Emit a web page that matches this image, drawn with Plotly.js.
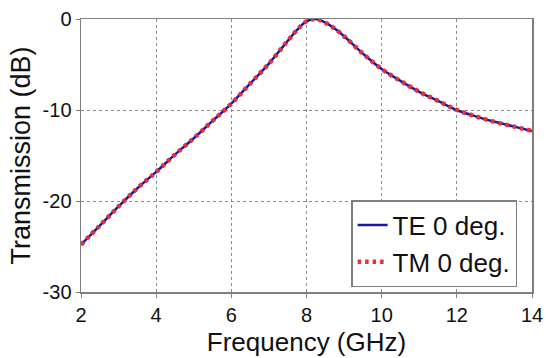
<!DOCTYPE html>
<html>
<head>
<meta charset="utf-8">
<script src="https://cdn.plot.ly/plotly-3.0.1.min.js"></script>
<style>html,body{margin:0;padding:0;background:#fff;}#chart{width:548px;height:358px;}</style>
</head>
<body>
<div id="chart"></div>
<script>
var freq = [2, 2.5, 3, 3.5, 4, 4.5, 5, 5.5, 6, 6.5, 7, 7.5, 7.75, 8, 8.25, 8.5, 8.75, 9, 9.5, 10, 10.5, 11, 11.5, 12, 12.5, 13, 13.5, 14];
var teValues = [-24.8, -22.7, -20.6, -18.6, -16.8, -14.9, -13.1, -11.2, -9.3, -7.1, -4.9, -2.4, -1.2, -0.26, 0, -0.4, -1.05, -1.9, -3.8, -5.5, -6.8, -8.0, -9.0, -10.0, -10.7, -11.3, -11.8, -12.3];
var tmValues = [-24.8, -22.7, -20.6, -18.6, -16.8, -14.9, -13.1, -11.2, -9.3, -7.1, -4.9, -2.4, -1.2, -0.26, 0, -0.4, -1.05, -1.9, -3.8, -5.5, -6.8, -8.0, -9.0, -10.0, -10.7, -11.3, -11.8, -12.3];
var seriesNames = ['TE 0 deg.', 'TM 0 deg.'];
var xTicks = [2, 4, 6, 8, 10, 12, 14];
var yTicks = [-30, -20, -10, 0];

var font = 'Arial, "Liberation Sans", sans-serif';
var data = [
  {x: freq, y: teValues, name: seriesNames[0], mode: 'lines', line: {color: '#1a1a9e', width: 2.5, shape: 'spline'}},
  {x: freq, y: tmValues, name: seriesNames[1], mode: 'lines', line: {color: '#e4313c', width: 4.5, dash: '3.5px,4px', shape: 'spline'}}
];
var axisCommon = {
  showline: true, linecolor: '#7f7f7f', linewidth: 1.5, mirror: true,
  showgrid: true, gridcolor: '#8a8a8a', griddash: 'dot', gridwidth: 1,
  ticks: 'outside', ticklen: 4, tickcolor: '#7f7f7f', tickwidth: 1,
  zeroline: false, tickfont: {family: font, size: 20, color: '#111'}
};
var layout = {
  width: 548, height: 358,
  margin: {l: 81, r: 16, t: 19, b: 66},
  paper_bgcolor: '#fff', plot_bgcolor: '#fff',
  showlegend: true,
  legend: {x: 0.967, y: 0.018, xanchor: 'right', yanchor: 'bottom', bgcolor: '#fff',
    bordercolor: '#7f7f7f', borderwidth: 1.5, font: {family: font, size: 26, color: '#111'},
    itemwidth: 30, tracegroupgap: 0},
  xaxis: Object.assign({}, axisCommon, {range: [2, 14], tickvals: xTicks, ticktext: xTicks.map(String),
    title: {text: 'Frequency (GHz)', font: {family: font, size: 26, color: '#111'}, standoff: 8}}),
  yaxis: Object.assign({}, axisCommon, {range: [-30, 0], tickvals: yTicks, ticktext: yTicks.map(String),
    title: {text: 'Transmission (dB)', font: {family: font, size: 27, color: '#111'}, standoff: 4}})
};
Plotly.newPlot('chart', data, layout, {displayModeBar: false, staticPlot: true});
</script>
</body>
</html>
